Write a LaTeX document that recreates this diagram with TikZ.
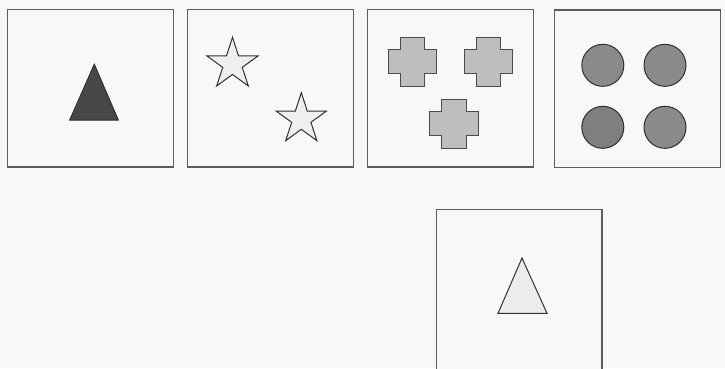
\documentclass[tikz,border=0pt]{standalone}
\definecolor{bg}{HTML}{F8F8F8}
\definecolor{boxline}{HTML}{5E5E5E}
\definecolor{darktri}{HTML}{474747}
\definecolor{lighttri}{HTML}{ECECEC}
\definecolor{starfill}{HTML}{EFEFEF}
\definecolor{crossfill}{HTML}{BEBEBE}
\definecolor{circfill}{HTML}{8A8A8A}
\definecolor{outline}{HTML}{303030}
\tikzset{
  panel/.style={draw=boxline, line width=1.1pt, fill=bg},
  shapeline/.style={draw=outline, line width=1pt, line join=miter},
  starsty/.style={shapeline, fill=starfill},
  crosssty/.style={draw=boxline!80!black, line width=1pt, fill=crossfill},
  circsty/.style={shapeline, fill=circfill}
}
\newcommand\mystar[3]{%
  \begin{scope}[shift={(#1,#2)}]
    \draw[starsty] (-90:#3) \foreach \i in {1,...,9}{ -- ({-90+36*\i}:{ifthenelse(isodd(\i),0.382*#3,#3)}) } -- cycle;
  \end{scope}}
\newcommand\mycross[2]{%
  \begin{scope}[shift={(#1,#2)}]
    \draw[crosssty] (-12.2,-24.4) -- (12.2,-24.4) -- (12.2,-12.2) -- (24.4,-12.2) -- (24.4,12.2) -- (12.2,12.2) -- (12.2,24.4) -- (-12.2,24.4) -- (-12.2,12.2) -- (-24.4,12.2) -- (-24.4,-12.2) -- (-12.2,-12.2) -- cycle;
  \end{scope}}
\begin{document}
\begin{tikzpicture}[x=1pt,y=-1pt]
  \useasboundingbox (0,0) rectangle (725,368);
  \fill[bg] (0,0) rectangle (725,368);
  \clip (0,0) rectangle (725,368);
  % panels
  \draw[panel] (7.5,9.5) rectangle (173.5,167);
  \draw[panel] (187.3,9.5) rectangle (353.7,167);
  \draw[panel] (367.3,9.5) rectangle (533.7,167);
  \draw[panel] (554.3,10) rectangle (720.3,167.3);
  \draw[panel] (436.3,209.7) rectangle (602,385);
  % panel 1: dark triangle
  \draw[shapeline, fill=darktri] (94.3,64.3) -- (118.3,120) -- (69.7,120) -- cycle;
  % panel 2: stars
  \mystar{232.5}{64.2}{26.9}
  \mystar{301.3}{119.2}{26.5}
  % panel 3: crosses
  \mycross{412.5}{61.7}
  \mycross{488.5}{61.7}
  \mycross{453.8}{123.7}
  % panel 4: circles
  \draw[circsty] (602.8,65.3) circle[radius=21];
  \draw[circsty] (665,65.3) circle[radius=21];
  \draw[circsty, fill=circfill!92!black] (602.8,127.3) circle[radius=21];
  \draw[circsty] (665,127.3) circle[radius=21];
  % bottom panel: light triangle
  \draw[shapeline, fill=lighttri] (522,258) -- (547,313.3) -- (498,313.3) -- cycle;
\end{tikzpicture}
\end{document}
